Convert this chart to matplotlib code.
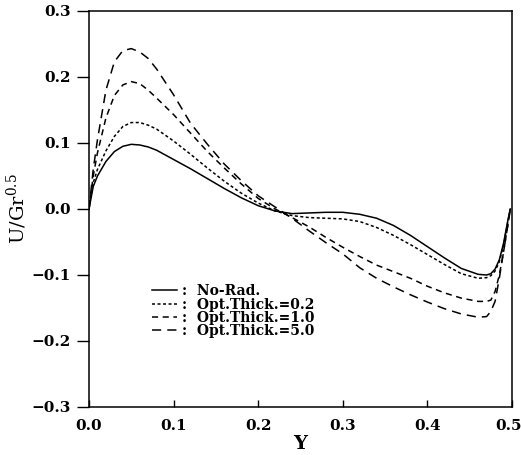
import matplotlib
matplotlib.use('Agg')
import matplotlib.pyplot as plt
import matplotlib.transforms as mtransforms

plt.rcParams['font.family'] = 'DejaVu Serif'
plt.rcParams['mathtext.fontset'] = 'dejavuserif'

# Y positions (shared by all curves)
Y = [0.0, 0.005, 0.01, 0.02, 0.03, 0.04, 0.05, 0.06, 0.07, 0.08,
     0.10, 0.12, 0.14, 0.16, 0.18, 0.20, 0.22, 0.24, 0.26, 0.28,
     0.30, 0.32, 0.34, 0.36, 0.38, 0.40, 0.42, 0.44, 0.46, 0.47,
     0.475, 0.48, 0.485, 0.49, 0.495, 0.498]

u_norad = [0.0, 0.034, 0.05, 0.072, 0.087, 0.095, 0.098, 0.097, 0.094, 0.089,
           0.075, 0.061, 0.046, 0.031, 0.017, 0.005, -0.003, -0.007, -0.006, -0.005,
           -0.005, -0.008, -0.014, -0.025, -0.040, -0.057, -0.074, -0.090, -0.099, -0.100,
           -0.098, -0.091, -0.077, -0.052, -0.018, 0.0]

u_tau02 = [0.0, 0.040, 0.06, 0.088, 0.110, 0.125, 0.131, 0.131, 0.127, 0.121,
           0.103, 0.083, 0.062, 0.042, 0.024, 0.009, -0.003, -0.010, -0.013, -0.014,
           -0.015, -0.019, -0.028, -0.040, -0.054, -0.069, -0.084, -0.098, -0.105, -0.104,
           -0.101, -0.094, -0.080, -0.055, -0.020, 0.0]

u_tau10 = [0.0, 0.050, 0.085, 0.138, 0.172, 0.188, 0.193, 0.190, 0.180, 0.168,
           0.143, 0.115, 0.087, 0.062, 0.038, 0.016, 0.0, -0.013, -0.027, -0.043,
           -0.058, -0.072, -0.085, -0.095, -0.105, -0.117, -0.127, -0.135, -0.140, -0.140,
           -0.138, -0.125, -0.100, -0.065, -0.025, 0.0]

u_tau50 = [0.0, 0.060, 0.105, 0.180, 0.223, 0.240, 0.243, 0.238, 0.228, 0.212,
           0.173, 0.130, 0.098, 0.068, 0.043, 0.020, 0.003, -0.014, -0.033, -0.051,
           -0.068, -0.089, -0.105, -0.118, -0.130, -0.141, -0.151, -0.159, -0.164, -0.163,
           -0.155, -0.140, -0.105, -0.065, -0.025, 0.0]

labels = [':  No-Rad.', ':  Opt.Thick.=0.2', ':  Opt.Thick.=1.0', ':  Opt.Thick.=5.0']
yticks = [-0.3, -0.2, -0.1, 0.0, 0.1, 0.2, 0.3]
xticks = [0.0, 0.1, 0.2, 0.3, 0.4, 0.5]

fig = plt.figure(figsize=(5.21, 4.55), dpi=100)
ax = fig.add_axes([89/521, 48/455, 423/521, 396/455])

ax.plot(Y, u_norad, color='black', lw=1.1, label=labels[0])
ax.plot(Y, u_tau02, color='black', lw=1.1, dashes=(2, 1.6), label=labels[1])
ax.plot(Y, u_tau10, color='black', lw=1.1, dashes=(4, 3), label=labels[2])
ax.plot(Y, u_tau50, color='black', lw=1.1, dashes=(6, 4), label=labels[3])

ax.set_xlim(0, 0.5)
ax.set_ylim(-0.3, 0.3)
ax.set_xticks(xticks)
ax.set_yticks(yticks)
ax.set_xticklabels(['%.1f' % v for v in xticks], fontsize=11, fontweight='bold')
ax.set_yticklabels(['%.1f' % v if v >= 0 else '\u2212%.1f' % -v for v in yticks],
                   fontsize=11, fontweight='bold')
ax.tick_params(axis='x', direction='in', length=5, width=1, pad=9)
ax.tick_params(axis='y', direction='out', length=9, width=1, pad=4)
for s in ax.spines.values():
    s.set_linewidth(1.1)

# keep the last x label inside the figure
last = ax.get_xticklabels()[-1]
last.set_transform(last.get_transform() +
                   mtransforms.ScaledTranslation(-4/100, 0, fig.dpi_scale_trans))

ax.set_xlabel('Y', fontsize=14, fontweight='bold', labelpad=1)
ax.set_ylabel(r'$\mathregular{U/Gr^{0.5}}$', fontsize=14, labelpad=2)

ax.legend(loc='upper left', bbox_to_anchor=(0.15, 0.31), frameon=False,
          prop={'size': 10, 'weight': 'bold'}, handlelength=1.75,
          handletextpad=0.4, labelspacing=-0.05, borderpad=0, borderaxespad=0)

fig.savefig('out.png', dpi=100)
